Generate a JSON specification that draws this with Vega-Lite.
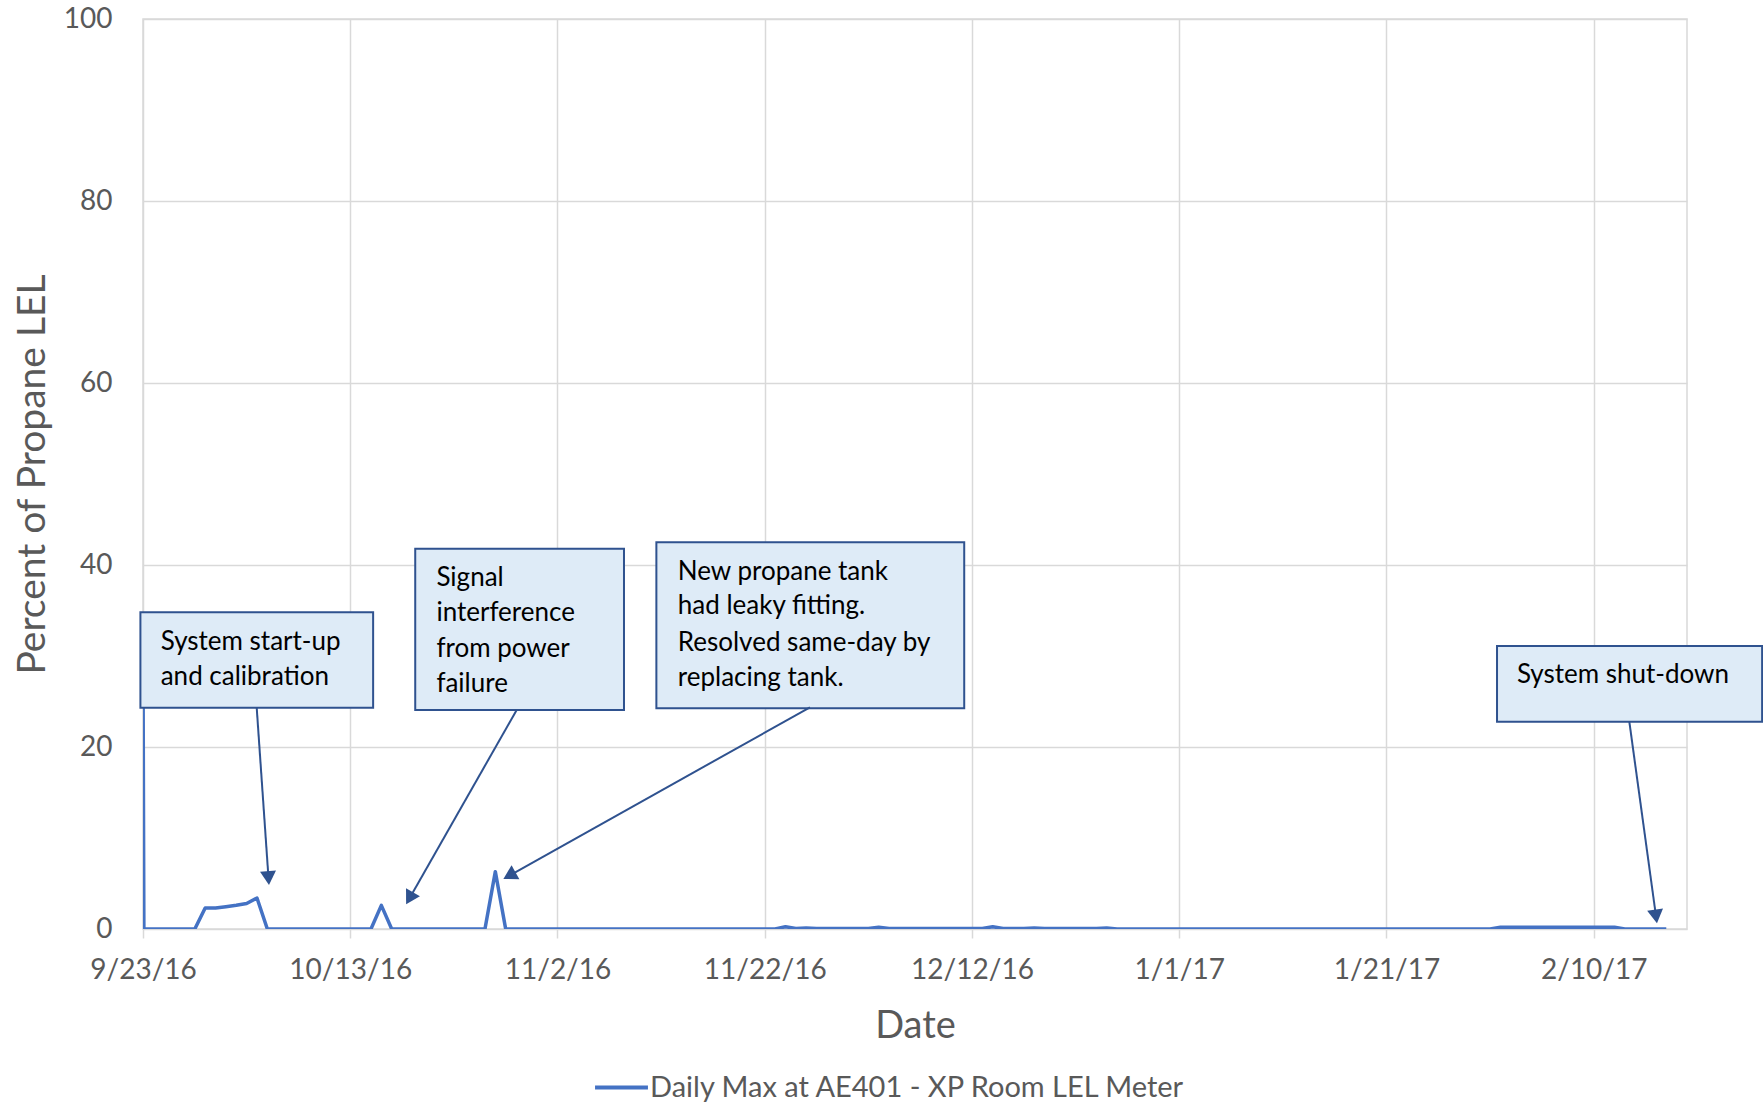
{
  "$schema": "https://vega.github.io/schema/vega-lite/v6.json",
  "width": 1544,
  "height": 910,
  "autosize": {"type": "none"},
  "padding": {"left": 143, "top": 19, "right": 76, "bottom": 175},
  "background": "white",
  "config": {
    "font": "Lato",
    "view": {"stroke": "#d9d9d9", "strokeWidth": 1.5},
    "axis": {"gridColor": "#d9d9d9", "gridWidth": 1.5, "domain": false, "labelColor": "#595959", "titleColor": "#595959", "labelFont": "Lato", "titleFont": "Lato", "labelFontSize": 28, "titleFontSize": 38, "titleFontWeight": "normal"}
  },
  "layer": [
    {
      "data": {
        "values": [
          {"d": "2016/09/23 00:00", "v": 30}, {"d": "2016/09/23 02:00", "v": 0},
          {"d": "2016/09/24", "v": 0}, {"d": "2016/09/25", "v": 0}, {"d": "2016/09/26", "v": 0}, {"d": "2016/09/27", "v": 0}, {"d": "2016/09/28", "v": 0},
          {"d": "2016/09/29", "v": 2.3}, {"d": "2016/09/30", "v": 2.3}, {"d": "2016/10/01", "v": 2.45}, {"d": "2016/10/02", "v": 2.6}, {"d": "2016/10/03", "v": 2.8}, {"d": "2016/10/04", "v": 3.4},
          {"d": "2016/10/05", "v": 0}, {"d": "2016/10/06", "v": 0}, {"d": "2016/10/07", "v": 0}, {"d": "2016/10/08", "v": 0}, {"d": "2016/10/09", "v": 0}, {"d": "2016/10/10", "v": 0}, {"d": "2016/10/11", "v": 0}, {"d": "2016/10/12", "v": 0}, {"d": "2016/10/13", "v": 0}, {"d": "2016/10/14", "v": 0}, {"d": "2016/10/15", "v": 0},
          {"d": "2016/10/16", "v": 2.6},
          {"d": "2016/10/17", "v": 0}, {"d": "2016/10/18", "v": 0}, {"d": "2016/10/19", "v": 0}, {"d": "2016/10/20", "v": 0}, {"d": "2016/10/21", "v": 0}, {"d": "2016/10/22", "v": 0}, {"d": "2016/10/23", "v": 0}, {"d": "2016/10/24", "v": 0}, {"d": "2016/10/25", "v": 0}, {"d": "2016/10/26", "v": 0},
          {"d": "2016/10/27", "v": 6.3},
          {"d": "2016/10/28", "v": 0}, {"d": "2016/10/29", "v": 0}, {"d": "2016/10/30", "v": 0}, {"d": "2016/10/31", "v": 0},
          {"d": "2016/11/01", "v": 0}, {"d": "2016/11/02", "v": 0}, {"d": "2016/11/03", "v": 0}, {"d": "2016/11/04", "v": 0}, {"d": "2016/11/05", "v": 0}, {"d": "2016/11/06", "v": 0}, {"d": "2016/11/07", "v": 0}, {"d": "2016/11/08", "v": 0}, {"d": "2016/11/09", "v": 0}, {"d": "2016/11/10", "v": 0},
          {"d": "2016/11/11", "v": 0}, {"d": "2016/11/12", "v": 0}, {"d": "2016/11/13", "v": 0}, {"d": "2016/11/14", "v": 0}, {"d": "2016/11/15", "v": 0}, {"d": "2016/11/16", "v": 0}, {"d": "2016/11/17", "v": 0}, {"d": "2016/11/18", "v": 0}, {"d": "2016/11/19", "v": 0}, {"d": "2016/11/20", "v": 0},
          {"d": "2016/11/21", "v": 0}, {"d": "2016/11/22", "v": 0}, {"d": "2016/11/23", "v": 0}, {"d": "2016/11/24", "v": 0.25}, {"d": "2016/11/25", "v": 0.05}, {"d": "2016/11/26", "v": 0.1}, {"d": "2016/11/27", "v": 0.05}, {"d": "2016/11/28", "v": 0.05}, {"d": "2016/11/29", "v": 0.05}, {"d": "2016/11/30", "v": 0.05},
          {"d": "2016/12/01", "v": 0.05}, {"d": "2016/12/02", "v": 0.05}, {"d": "2016/12/03", "v": 0.2}, {"d": "2016/12/04", "v": 0.05}, {"d": "2016/12/05", "v": 0.05}, {"d": "2016/12/06", "v": 0.05}, {"d": "2016/12/07", "v": 0.05}, {"d": "2016/12/08", "v": 0.05}, {"d": "2016/12/09", "v": 0.05}, {"d": "2016/12/10", "v": 0.05},
          {"d": "2016/12/11", "v": 0.05}, {"d": "2016/12/12", "v": 0.05}, {"d": "2016/12/13", "v": 0.05}, {"d": "2016/12/14", "v": 0.25}, {"d": "2016/12/15", "v": 0.05}, {"d": "2016/12/16", "v": 0.05}, {"d": "2016/12/17", "v": 0.05}, {"d": "2016/12/18", "v": 0.1}, {"d": "2016/12/19", "v": 0.05}, {"d": "2016/12/20", "v": 0.05},
          {"d": "2016/12/21", "v": 0.05}, {"d": "2016/12/22", "v": 0.05}, {"d": "2016/12/23", "v": 0.05}, {"d": "2016/12/24", "v": 0.05}, {"d": "2016/12/25", "v": 0.1}, {"d": "2016/12/26", "v": 0}, {"d": "2016/12/27", "v": 0}, {"d": "2016/12/28", "v": 0}, {"d": "2016/12/29", "v": 0}, {"d": "2016/12/30", "v": 0}, {"d": "2016/12/31", "v": 0},
          {"d": "2017/01/01", "v": 0}, {"d": "2017/01/02", "v": 0}, {"d": "2017/01/03", "v": 0}, {"d": "2017/01/04", "v": 0}, {"d": "2017/01/05", "v": 0}, {"d": "2017/01/06", "v": 0}, {"d": "2017/01/07", "v": 0}, {"d": "2017/01/08", "v": 0}, {"d": "2017/01/09", "v": 0}, {"d": "2017/01/10", "v": 0},
          {"d": "2017/01/11", "v": 0}, {"d": "2017/01/12", "v": 0}, {"d": "2017/01/13", "v": 0}, {"d": "2017/01/14", "v": 0}, {"d": "2017/01/15", "v": 0}, {"d": "2017/01/16", "v": 0}, {"d": "2017/01/17", "v": 0}, {"d": "2017/01/18", "v": 0}, {"d": "2017/01/19", "v": 0}, {"d": "2017/01/20", "v": 0},
          {"d": "2017/01/21", "v": 0}, {"d": "2017/01/22", "v": 0}, {"d": "2017/01/23", "v": 0}, {"d": "2017/01/24", "v": 0}, {"d": "2017/01/25", "v": 0}, {"d": "2017/01/26", "v": 0}, {"d": "2017/01/27", "v": 0}, {"d": "2017/01/28", "v": 0}, {"d": "2017/01/29", "v": 0}, {"d": "2017/01/30", "v": 0}, {"d": "2017/01/31", "v": 0},
          {"d": "2017/02/01", "v": 0.2}, {"d": "2017/02/02", "v": 0.2}, {"d": "2017/02/03", "v": 0.2}, {"d": "2017/02/04", "v": 0.2}, {"d": "2017/02/05", "v": 0.2}, {"d": "2017/02/06", "v": 0.2}, {"d": "2017/02/07", "v": 0.2}, {"d": "2017/02/08", "v": 0.2}, {"d": "2017/02/09", "v": 0.2}, {"d": "2017/02/10", "v": 0.2}, {"d": "2017/02/11", "v": 0.2}, {"d": "2017/02/12", "v": 0.2},
          {"d": "2017/02/13", "v": 0}, {"d": "2017/02/14", "v": 0}, {"d": "2017/02/15", "v": 0}, {"d": "2017/02/16", "v": 0}, {"d": "2017/02/17", "v": 0}
        ],
        "format": {"parse": {"d": "date"}}
      },
      "mark": {"type": "line", "strokeWidth": 3.5, "strokeJoin": "round", "clip": true},
      "encoding": {
        "x": {
          "field": "d", "type": "temporal",
          "scale": {"domain": [{"year": 2016, "month": 9, "date": 23}, {"year": 2017, "month": 2, "date": 19}]},
          "axis": {
            "title": "Date",
            "values": [
              {"year": 2016, "month": 9, "date": 23}, {"year": 2016, "month": 10, "date": 13}, {"year": 2016, "month": 11, "date": 2}, {"year": 2016, "month": 11, "date": 22},
              {"year": 2016, "month": 12, "date": 12}, {"year": 2017, "month": 1, "date": 1}, {"year": 2017, "month": 1, "date": 21}, {"year": 2017, "month": 2, "date": 10}
            ],
            "format": "%-m/%-d/%y",
            "ticks": true, "tickColor": "#d9d9d9", "tickWidth": 1.5, "tickSize": 9,
            "labelPadding": 18, "labelAngle": 0, "labelFlush": false, "labelOverlap": false,
            "titleBaseline": "alphabetic", "titleY": 108
          }
        },
        "y": {
          "field": "v", "type": "quantitative",
          "scale": {"domain": [0, 100], "nice": false},
          "axis": {
            "title": "Percent of Propane LEL",
            "values": [0, 20, 40, 60, 80, 100],
            "ticks": false, "labelPadding": 31,
            "titleBaseline": "alphabetic", "titleX": -99, "titleFontSize": 39
          }
        },
        "color": {
          "datum": "Daily Max at AE401 - XP Room LEL Meter",
          "type": "nominal",
          "scale": {"range": ["#4472C4"]},
          "legend": {
            "title": null, "orient": "none", "legendX": 450, "legendY": 1040,
            "symbolType": "stroke", "symbolSize": 2800, "symbolStrokeWidth": 4,
            "labelFontSize": 29, "labelColor": "#595959", "labelFont": "Lato", "labelOffset": 0, "labelLimit": 1000
          }
        }
      }
    },
    {
      "data": {
        "values": [
          {"x1": "2016/09/22 18:00", "x2": "2016/10/15 05:00", "y1": 24.3, "y2": 34.8},
          {"x1": "2016/10/19 06:30", "x2": "2016/11/08 10:00", "y1": 24.07, "y2": 41.79},
          {"x1": "2016/11/11 13:00", "x2": "2016/12/11 06:00", "y1": 24.25, "y2": 42.5},
          {"x1": "2017/01/31 16:00", "x2": "2017/02/26 06:00", "y1": 22.78, "y2": 31.1}
        ],
        "format": {"parse": {"x1": "date", "x2": "date"}}
      },
      "mark": {"type": "rect", "fill": "#DEEBF7", "stroke": "#2F528F", "strokeWidth": 2, "clip": false},
      "encoding": {
        "x": {"field": "x1", "type": "temporal"},
        "x2": {"field": "x2"},
        "y": {"field": "y1", "type": "quantitative"},
        "y2": {"field": "y2"}
      }
    },
    {
      "data": {
        "values": [
          {"x": "2016/09/24 17:00", "y": 31.57, "t": "System start-up"},
          {"x": "2016/09/24 17:00", "y": 27.73, "t": "and calibration"},
          {"x": "2016/10/21 07:30", "y": 38.54, "t": "Signal"},
          {"x": "2016/10/21 07:30", "y": 34.69, "t": "interference"},
          {"x": "2016/10/21 07:30", "y": 30.74, "t": "from power"},
          {"x": "2016/10/21 07:30", "y": 26.92, "t": "failure"},
          {"x": "2016/11/13 14:40", "y": 39.26, "t": "New propane tank"},
          {"x": "2016/11/13 14:40", "y": 35.49, "t": "had leaky fitting."},
          {"x": "2016/11/13 14:40", "y": 31.46, "t": "Resolved same-day by"},
          {"x": "2016/11/13 14:40", "y": 27.55, "t": "replacing tank."},
          {"x": "2017/02/02 14:00", "y": 27.9, "t": "System shut-down"}
        ],
        "format": {"parse": {"x": "date"}}
      },
      "mark": {"type": "text", "align": "left", "baseline": "middle", "fontSize": 26, "font": "Lato", "color": "#000000"},
      "encoding": {
        "x": {"field": "x", "type": "temporal"},
        "y": {"field": "y", "type": "quantitative"},
        "text": {"field": "t"}
      }
    },
    {
      "data": {
        "values": [
          {"x1": "2016/10/03 23:20", "y1": 24.32, "x2": "2016/10/05 02:40", "y2": 5.6},
          {"x1": "2016/10/29 01:30", "y1": 24.07, "x2": "2016/10/18 17:20", "y2": 3.38},
          {"x1": "2016/11/26 08:40", "y1": 24.36, "x2": "2016/10/28 08:40", "y2": 5.87},
          {"x1": "2017/02/13 10:30", "y1": 22.75, "x2": "2017/02/16 00:15", "y2": 1.38}
        ],
        "format": {"parse": {"x1": "date", "x2": "date"}}
      },
      "mark": {"type": "rule", "stroke": "#2F528F", "strokeWidth": 2},
      "encoding": {
        "x": {"field": "x1", "type": "temporal"},
        "x2": {"field": "x2"},
        "y": {"field": "y1", "type": "quantitative"},
        "y2": {"field": "y2"}
      }
    },
    {
      "data": {
        "values": [
          {"x": "2016/10/05 02:40", "y": 5.6, "a": 176},
          {"x": "2016/10/18 17:20", "y": 3.38, "a": 209.6},
          {"x": "2016/10/28 08:40", "y": 5.87, "a": 240.75},
          {"x": "2017/02/16 00:15", "y": 1.38, "a": 172.2}
        ],
        "format": {"parse": {"x": "date"}}
      },
      "mark": {"type": "point", "shape": "triangle-up", "filled": true, "color": "#2F528F", "size": 256, "opacity": 1},
      "encoding": {
        "x": {"field": "x", "type": "temporal"},
        "y": {"field": "y", "type": "quantitative"},
        "angle": {"field": "a", "type": "quantitative", "scale": null}
      }
    }
  ]
}
